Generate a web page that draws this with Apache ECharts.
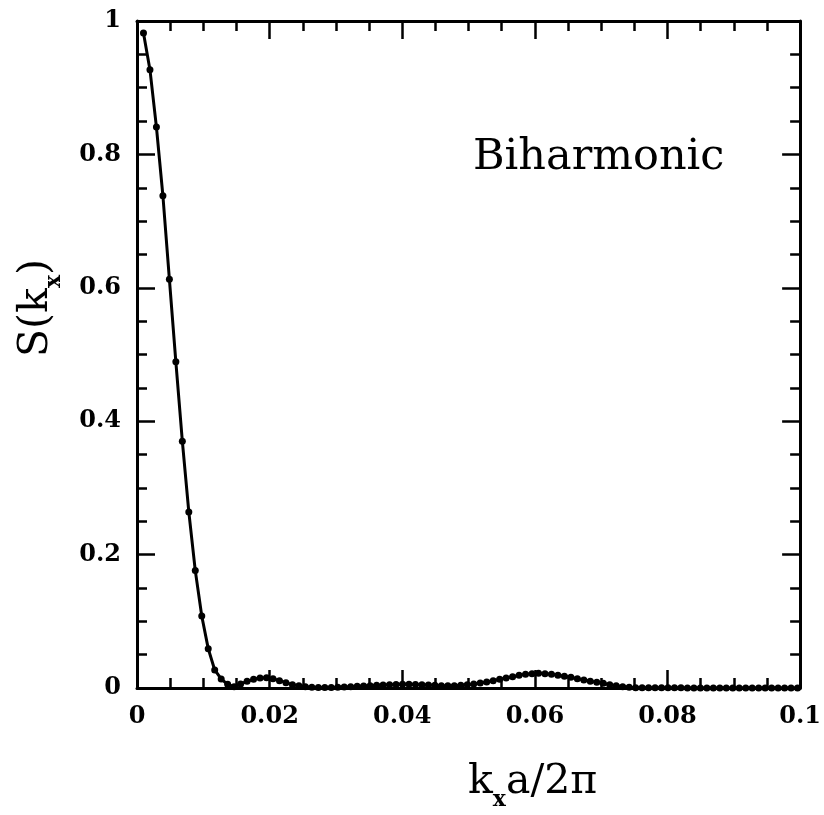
<!DOCTYPE html>
<html>
<head>
<meta charset="utf-8">
<script src="https://cdn.jsdelivr.net/npm/echarts@6/dist/echarts.min.js"></script>
<style>
html,body{margin:0;padding:0;background:#fff;}
#chart{width:824px;height:815px;}
</style>
</head>
<body>
<div id="chart"></div>
<script>
// k_x a / 2π sample positions: n / 1024, n = 1..102
const kIndex = [];
for (let n = 1; n <= 102; n++) kIndex.push(n);
const kx = kIndex.map(n => n / 1024);

// S(k_x) values
const S = [
  0.982, 0.927, 0.841, 0.738, 0.613, 0.489, 0.370, 0.264, 0.176, 0.108,
  0.059, 0.027, 0.0135, 0.0055, 0.002, 0.006, 0.010, 0.013, 0.015, 0.0155,
  0.014, 0.011, 0.008, 0.005, 0.0035, 0.002, 0.001, 0.0008, 0.0007, 0.0008,
  0.001, 0.0015, 0.002, 0.0025, 0.003, 0.0035, 0.004, 0.0045, 0.005, 0.0052,
  0.0055, 0.0055, 0.0052, 0.005, 0.0045, 0.004, 0.0035, 0.0035, 0.0035, 0.004,
  0.005, 0.006, 0.0075, 0.009, 0.011, 0.013, 0.015, 0.017, 0.019, 0.0205,
  0.0215, 0.022, 0.0215, 0.0205, 0.019, 0.0175, 0.016, 0.014, 0.012, 0.010,
  0.0085, 0.007, 0.005, 0.0035, 0.002, 0.001, 0.0005, 0.0003, 0.0002, 0.0002,
  0.0002, 0.0002, 0.0002, 0.0002, 0.0001, 0.0001, 0.0001, 0.0001, 0.0001, 0.0001,
  0.0001, 0.0001, 0.0001, 0.0001, 0.0001, 0.0001, 0.0001, 0.0001, 0.0001, 0.0001,
  0.0001, 0.0001
];

const xTicks = ['0', '0.02', '0.04', '0.06', '0.08', '0.1'];
const yTicks = ['0', '0.2', '0.4', '0.6', '0.8', '1'];

const FONT = '"DejaVu Serif", serif';
const chart = echarts.init(document.getElementById('chart'), null, {renderer: 'canvas'});

const axisLine = {show: true, onZero: false, lineStyle: {color: '#000', width: 3}};
const tickStyle = {show: true, inside: true, length: 18, lineStyle: {color: '#000', width: 2.5}};
const minorStyle = {show: true, splitNumber: 4, length: 10, lineStyle: {color: '#000', width: 2.5}};

function fmt(list, step) {
  return function (v) {
    const i = Math.round(v / step);
    return list[i] !== undefined ? list[i] : '';
  };
}

const labelStyle = {show: true, margin: 16, color: '#000', fontFamily: FONT, fontSize: 24, fontWeight: 'bold'};

const option = {
  animation: false,
  backgroundColor: '#fff',
  grid: {left: 137, top: 21, right: 20, bottom: 127, containLabel: false},
  xAxis: [
    {
      type: 'value', min: 0, max: 0.1, interval: 0.02, position: 'bottom',
      axisLine: axisLine, axisTick: tickStyle, minorTick: minorStyle,
      splitLine: {show: false},
      axisLabel: Object.assign({}, labelStyle, {margin: 17, formatter: fmt(xTicks, 0.02)})
    },
    {
      type: 'value', min: 0, max: 0.1, interval: 0.02, position: 'top',
      axisLine: axisLine, axisTick: tickStyle, minorTick: minorStyle,
      splitLine: {show: false}, axisLabel: {show: false}
    }
  ],
  yAxis: [
    {
      type: 'value', min: 0, max: 1, interval: 0.2, position: 'left',
      axisLine: axisLine, axisTick: tickStyle, minorTick: minorStyle,
      splitLine: {show: false},
      axisLabel: Object.assign({}, labelStyle, {formatter: fmt(yTicks, 0.2)})
    },
    {
      type: 'value', min: 0, max: 1, interval: 0.2, position: 'right',
      axisLine: axisLine, axisTick: tickStyle, minorTick: minorStyle,
      splitLine: {show: false}, axisLabel: {show: false}
    }
  ],
  series: [{
    type: 'line',
    data: kx.map((x, i) => [x, S[i]]),
    smooth: false,
    symbol: 'circle',
    symbolSize: 7,
    showSymbol: true,
    lineStyle: {color: '#000', width: 3},
    itemStyle: {color: '#000', borderWidth: 0},
    clip: false
  }],
  graphic: [
    {
      type: 'text', left: 473, top: 136,
      style: {text: 'Biharmonic', font: '43px "DejaVu Serif", serif', fill: '#000'}
    },
    {
      type: 'text', left: 468, top: 762,
      style: {
        text: '{k|k}{s|x}{k|a/2π}',
        rich: {
          k: {fontFamily: FONT, fontSize: 41, fill: '#000', verticalAlign: 'bottom'},
          s: {fontFamily: FONT, fontSize: 22, fontWeight: 'bold', fill: '#000', verticalAlign: 'bottom', padding: [0, 0, -8, 0]}
        }
      }
    },
    {
      type: 'text', x: 16, y: 357, rotation: Math.PI / 2,
      style: {
        text: '{k|S(k}{s|x}{k|)}',
        rich: {
          k: {fontFamily: FONT, fontSize: 41, fill: '#000', verticalAlign: 'bottom'},
          s: {fontFamily: FONT, fontSize: 22, fontWeight: 'bold', fill: '#000', verticalAlign: 'bottom', padding: [0, 0, -8, 0]}
        }
      }
    }
  ]
};
chart.setOption(option);
</script>
</body>
</html>
